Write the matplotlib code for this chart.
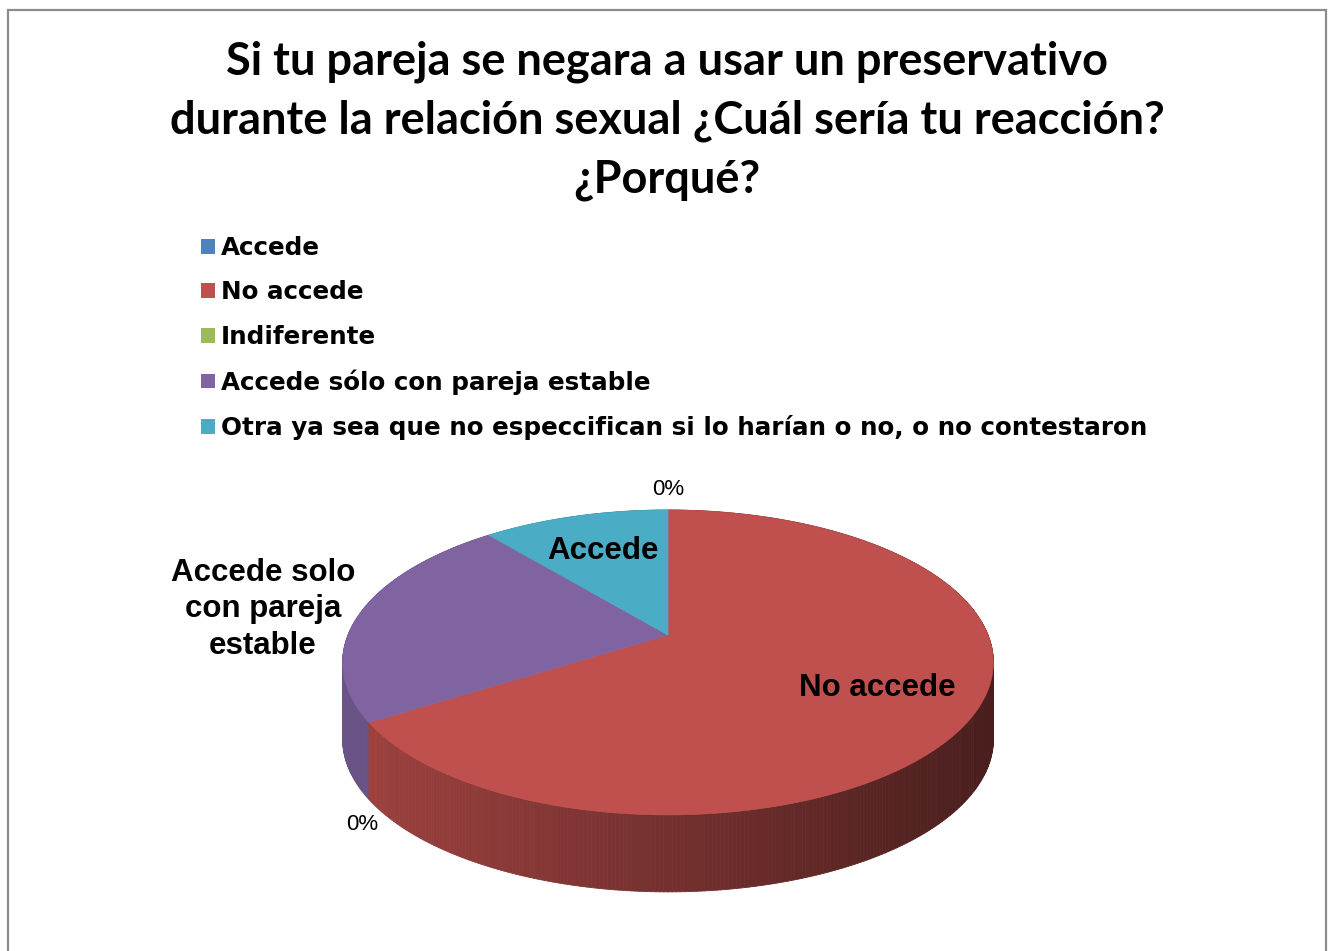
import numpy as np
import matplotlib.pyplot as plt
from matplotlib.patches import Polygon, Rectangle, Patch
from matplotlib.collections import PolyCollection
import matplotlib.colors as mcolors

# datos del grafico
categorias = ["Accede", "No accede", "Indiferente", "Accede sólo con pareja estable",
              "Otra ya sea que no especcifican si lo harían o no, o no contestaron"]
porcentajes = [0, 66, 0, 23, 11]
etiquetas = ["0%", "No accede", "0%", "Accede solo\ncon pareja\nestable", "Accede"]
colores = ["#4F81BD", "#C0504D", "#9BBB59", "#8064A2", "#4BACC6"]
titulo = ("Si tu pareja se negara a usar un preservativo\n"
          "durante la relación sexual ¿Cuál sería tu reacción?\n¿Porqué?")

# geometria del pastel 3D (en pixeles respecto al centro)
A, B, K = 320.0, 147.5, 0.18   # semi ancho, semi alto, perspectiva
PROF = 77.0                    # grosor del pastel
CX, CY = 668, 635              # centro en la imagen
W, H = 1334, 951


def proyectar(r, alfa):
    # alfa: angulo desde las 12 en sentido horario
    u = r * np.sin(alfa)
    v = r * np.cos(alfa)
    w = 1 + K * v
    return A * u / w, B * v / w


fig = plt.figure(figsize=(W / 100, H / 100), dpi=100)
ax = fig.add_axes([0, 0, 1, 1])
ax.set_xlim(-CX, W - CX)
ax.set_ylim(-(H - CY), CY)
ax.axis("off")

# marco gris
fig.patches.append(Rectangle((8 / W, -0.05), (1326 - 8) / W, 1.05 - 10 / H,
                             transform=fig.transFigure, fill=False,
                             edgecolor="#8c8c8c", lw=1.6))

total = sum(porcentajes)
limites = np.concatenate([[0], np.cumsum(porcentajes)]) / total * 2 * np.pi

# caras laterales (con degradado de izquierda a derecha)
quads, cols, orden = [], [], []
for i, val in enumerate(porcentajes):
    if val == 0:
        continue
    a0, a1 = limites[i], limites[i + 1]
    n = max(int(val * 6), 10)
    ang = np.linspace(a0, a1, n + 1)
    base = np.array(mcolors.to_rgb(colores[i]))
    for j in range(n):
        x1, y1 = proyectar(1, ang[j])
        x2, y2 = proyectar(1, ang[j + 1])
        xm = (x1 + x2) / 2
        f = 0.83 - (xm + 325) / 650 * 0.45
        quads.append([(x1, y1), (x2, y2), (x2, y2 - PROF), (x1, y1 - PROF)])
        cols.append(np.clip(base * f, 0, 1))
        orden.append(np.cos((ang[j] + ang[j + 1]) / 2))
idx = np.argsort(orden)[::-1]
pc = PolyCollection([quads[k] for k in idx], facecolors=[cols[k] for k in idx],
                    edgecolors=[cols[k] for k in idx], linewidths=0.6, zorder=1)
ax.add_collection(pc)

# caras superiores
for i, val in enumerate(porcentajes):
    if val == 0:
        continue
    ang = np.linspace(limites[i], limites[i + 1], 200)
    xs, ys = proyectar(1, ang)
    pts = [(0, 0)] + list(zip(xs, ys))
    ax.add_patch(Polygon(pts, closed=True, facecolor=colores[i],
                         edgecolor=colores[i], lw=0.5, zorder=2))

# etiquetas de datos
radios = [1.2, 0.7, 1.02, 1.33, 0.67]
caidas = [0, 0, 1.3, 0.05, 0]
for i, txt in enumerate(etiquetas):
    if porcentajes[i] == 0:
        mid = limites[i]
    else:
        mid = (limites[i] + limites[i + 1]) / 2
    x, y = proyectar(radios[i], mid)
    y -= caidas[i] * PROF
    if porcentajes[i] == 0:
        ax.text(x, y, txt, ha="center", va="center", fontsize=16,
                family="Liberation Sans", color="black", zorder=3)
    else:
        ax.text(x, y, txt, ha="center", va="center", fontsize=22.5,
                family="Liberation Sans", weight="bold", color="black",
                linespacing=1.29, zorder=3)

# titulo
fig.text(0.5, 1 - 121 / H, titulo, ha="center", va="center", fontsize=32.5,
         family="Lato", weight="bold", linespacing=1.49)

# leyenda
manejadores = [Patch(facecolor=c, edgecolor="none") for c in colores]
fig.legend(manejadores, categorias, loc="upper left",
           bbox_to_anchor=(201 / W, 1 - 236 / H), frameon=False,
           prop={"family": "DejaVu Sans", "weight": "bold", "size": 17.7},
           handlelength=0.55, handleheight=0.55, handletextpad=0.27,
           labelspacing=0.83, borderpad=0, borderaxespad=0)

fig.savefig("out.png", dpi=100, facecolor="white")
